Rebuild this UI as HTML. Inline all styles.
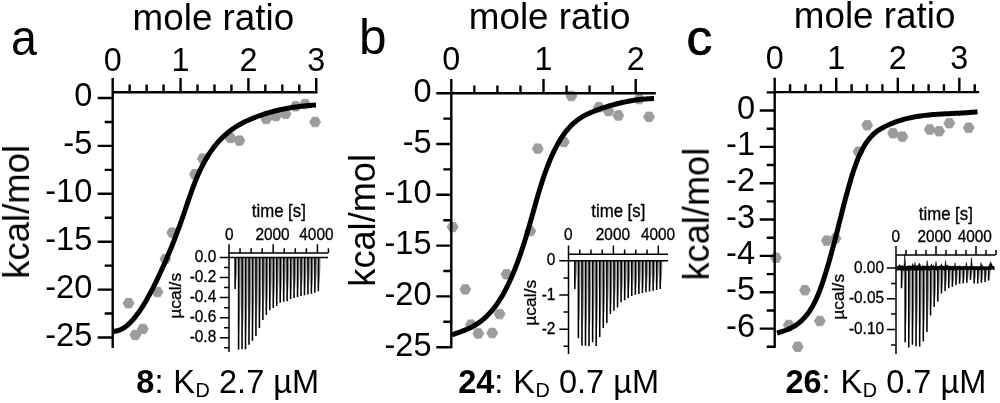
<!DOCTYPE html>
<html lang="en"><head><meta charset="utf-8"><title>ITC binding isotherms</title>
<style>html,body{margin:0;padding:0;background:#fff}body{width:1000px;height:403px;overflow:hidden}svg{display:block}text{font-family:'Liberation Sans', Arial, Helvetica, sans-serif;fill:#000}</style>
</head><body>
<svg width="1000" height="403" viewBox="0 0 1000 403">
<defs><filter id="soft" x="0" y="0" width="1000" height="403" filterUnits="userSpaceOnUse" color-interpolation-filters="sRGB"><feGaussianBlur stdDeviation="0.45"/></filter></defs>
<rect width="1000" height="403" fill="#fff"/>
<g filter="url(#soft)">
<rect width="1000" height="403" fill="#fff"/>
<g id="panel-a">
<text transform="translate(11.1,54.5) scale(0.93,1)" font-size="50" stroke="#000" stroke-width="0">a</text>
<text x="132.6" y="30.2" font-size="36.8" text-anchor="start">mole ratio</text>
<text x="112.7" y="70.7" font-size="32.3" text-anchor="middle">0</text>
<text x="180.55" y="70.7" font-size="32.3" text-anchor="middle">1</text>
<text x="248.4" y="70.7" font-size="32.3" text-anchor="middle">2</text>
<text x="316.25" y="70.7" font-size="32.3" text-anchor="middle">3</text>
<text x="92.3" y="106" font-size="32.6" text-anchor="end">0</text>
<text x="92.3" y="153.9" font-size="32.6" text-anchor="end">-5</text>
<text x="92.3" y="201.8" font-size="32.6" text-anchor="end">-10</text>
<text x="92.3" y="249.7" font-size="32.6" text-anchor="end">-15</text>
<text x="92.3" y="297.6" font-size="32.6" text-anchor="end">-20</text>
<text x="92.3" y="345.5" font-size="32.6" text-anchor="end">-25</text>
<text transform="translate(29,278.8) rotate(-90)" font-size="36.5">kcal/mol</text>
<g fill="#9c9c9c" stroke="#9c9c9c" stroke-width="0.9" stroke-linejoin="round">
<polygon points="133.95,303.2 131.22,307.92 125.78,307.92 123.05,303.2 125.77,298.48 131.22,298.48"/>
<polygon points="148.25,328.9 145.53,333.62 140.08,333.62 137.35,328.9 140.08,324.18 145.53,324.18"/>
<polygon points="140.75,335 138.03,339.72 132.58,339.72 129.85,335 132.58,330.28 138.03,330.28"/>
<polygon points="162.95,292 160.22,296.72 154.78,296.72 152.05,292 154.78,287.28 160.22,287.28"/>
<polygon points="170.85,259 168.12,263.72 162.68,263.72 159.95,259 162.68,254.28 168.12,254.28"/>
<polygon points="177.65,232.6 174.92,237.32 169.47,237.32 166.75,232.6 169.47,227.88 174.92,227.88"/>
<polygon points="200.35,174.2 197.62,178.92 192.18,178.92 189.45,174.2 192.18,169.48 197.62,169.48"/>
<polygon points="208.25,158.6 205.53,163.32 200.08,163.32 197.35,158.6 200.08,153.88 205.53,153.88"/>
<polygon points="235.95,138 233.22,142.72 227.78,142.72 225.05,138 227.78,133.28 233.22,133.28"/>
<polygon points="244.85,140.6 242.12,145.32 236.68,145.32 233.95,140.6 236.68,135.88 242.12,135.88"/>
<polygon points="271.75,119 269.03,123.72 263.57,123.72 260.85,119 263.57,114.28 269.03,114.28"/>
<polygon points="281.35,116 278.62,120.72 273.17,120.72 270.45,116 273.17,111.28 278.62,111.28"/>
<polygon points="291.05,113.8 288.33,118.52 282.88,118.52 280.15,113.8 282.88,109.08 288.33,109.08"/>
<polygon points="301.15,106.3 298.43,111.02 292.97,111.02 290.25,106.3 292.97,101.58 298.43,101.58"/>
<polygon points="310.55,104.1 307.83,108.82 302.38,108.82 299.65,104.1 302.38,99.38 307.83,99.38"/>
<polygon points="320.55,122 317.83,126.72 312.38,126.72 309.65,122 312.38,117.28 317.83,117.28"/>
</g>
<polyline points="113.2,331.3 115.25,331.2 117.3,330.82 119.35,330.18 121.39,329.27 123.44,328.12 125.49,326.72 127.54,325.08 129.59,323.21 131.64,321.12 133.68,318.81 135.73,316.3 137.78,313.59 139.83,310.69 141.88,307.6 143.93,304.34 145.98,300.91 148.02,297.32 150.07,293.57 152.12,289.68 154.17,285.65 156.22,281.48 158.27,277.2 160.32,272.8 162.36,268.29 164.41,263.68 166.46,258.98 168.51,254.17 170.56,249.25 172.61,244.2 174.65,239.01 176.7,233.68 178.75,228.18 180.8,222.52 182.85,216.68 184.9,210.69 186.95,204.66 188.99,198.66 191.04,192.79 193.09,187.12 195.14,181.74 197.19,176.74 199.24,172.09 201.28,167.78 203.33,163.78 205.38,160.07 207.43,156.62 209.48,153.41 211.53,150.42 213.58,147.62 215.62,145.01 217.67,142.57 219.72,140.3 221.77,138.16 223.82,136.17 225.87,134.3 227.92,132.56 229.96,130.93 232.01,129.41 234.06,127.98 236.11,126.65 238.16,125.41 240.21,124.24 242.25,123.14 244.3,122.1 246.35,121.11 248.4,120.17 250.45,119.27 252.5,118.41 254.55,117.58 256.59,116.78 258.64,116.01 260.69,115.28 262.74,114.57 264.79,113.9 266.84,113.26 268.88,112.65 270.93,112.06 272.98,111.5 275.03,110.97 277.08,110.47 279.13,109.99 281.18,109.54 283.22,109.11 285.27,108.7 287.32,108.32 289.37,107.96 291.42,107.62 293.47,107.3 295.52,107 297.56,106.72 299.61,106.47 301.66,106.22 303.71,106 305.76,105.79 307.81,105.6 309.85,105.43 311.9,105.27 313.95,105.12 316,104.99" fill="none" stroke="#000" stroke-width="5.0" stroke-linejoin="round"/>
<path d="M112.7,91.1V348M111.5,92.3H317.5M112.7,92.3V78M129.66,92.3V84.5M146.62,92.3V84.5M163.59,92.3V84.5M180.55,92.3V78M197.51,92.3V84.5M214.47,92.3V84.5M231.44,92.3V84.5M248.4,92.3V78M265.36,92.3V84.5M282.32,92.3V84.5M299.29,92.3V84.5M316.25,92.3V78M112.7,98H97.7M112.7,121.95H104.7M112.7,145.9H97.7M112.7,169.85H104.7M112.7,193.8H97.7M112.7,217.75H104.7M112.7,241.7H97.7M112.7,265.65H104.7M112.7,289.6H97.7M112.7,313.55H104.7M112.7,337.5H97.7" fill="none" stroke="#000" stroke-width="2.4"/>
</g>
<g id="inset-a">
<text transform="translate(278.8,216.8) scale(1,1.07)" font-size="16.8" text-anchor="middle" stroke="#000" stroke-width="0.3">time [s]</text>
<text transform="translate(229.3,239.8) scale(1,1.07)" font-size="15.4" text-anchor="middle" stroke="#000" stroke-width="0.3">0</text>
<text transform="translate(272.5,239.8) scale(1,1.07)" font-size="15.4" text-anchor="middle" stroke="#000" stroke-width="0.3">2000</text>
<text transform="translate(316.4,239.8) scale(1,1.07)" font-size="15.4" text-anchor="middle" stroke="#000" stroke-width="0.3">4000</text>
<text transform="translate(216.2,262.1) scale(1,1.07)" font-size="15.4" text-anchor="end" stroke="#000" stroke-width="0.3">0.0</text>
<text transform="translate(216.2,282.16) scale(1,1.07)" font-size="15.4" text-anchor="end" stroke="#000" stroke-width="0.3">-0.2</text>
<text transform="translate(216.2,302.22) scale(1,1.07)" font-size="15.4" text-anchor="end" stroke="#000" stroke-width="0.3">-0.4</text>
<text transform="translate(216.2,322.28) scale(1,1.07)" font-size="15.4" text-anchor="end" stroke="#000" stroke-width="0.3">-0.6</text>
<text transform="translate(216.2,342.34) scale(1,1.07)" font-size="15.4" text-anchor="end" stroke="#000" stroke-width="0.3">-0.8</text>
<text transform="translate(180.8,318.8) rotate(-90) scale(1.07,1)" font-size="16.3" stroke="#000" stroke-width="0.3">µcal/s</text>
<path d="M235.8,257.5V284.11L236.4,279.41L236.9,273.15L237.2,265.32L237.35,257.5ZM239.27,257.5V335.44L239.87,321.69L240.37,303.35L240.67,280.43L240.82,257.5ZM242.73,257.5V335.27L243.33,321.55L243.83,303.25L244.13,280.38L244.28,257.5ZM246.2,257.5V335.19L246.8,321.48L247.3,303.2L247.6,280.35L247.75,257.5ZM249.67,257.5V331.37L250.27,318.33L250.77,300.95L251.07,279.23L251.22,257.5ZM253.13,257.5V327.96L253.73,315.53L254.23,298.95L254.53,278.23L254.69,257.5ZM256.6,257.5V323.88L257.2,312.17L257.7,296.55L258,277.02L258.15,257.5ZM260.07,257.5V317.09L260.67,306.57L261.17,292.55L261.47,275.02L261.62,257.5ZM263.54,257.5V310.29L264.14,300.97L264.64,288.55L264.94,273.02L265.09,257.5ZM267,257.5V306.2L267.6,297.61L268.1,286.15L268.4,271.82L268.55,257.5ZM270.47,257.5V302.12L271.07,294.25L271.57,283.75L271.87,270.62L272.02,257.5ZM273.94,257.5V300.09L274.54,292.57L275.04,282.55L275.34,270.02L275.49,257.5ZM277.4,257.5V298.47L278,291.24L278.5,281.6L278.8,269.55L278.95,257.5ZM280.87,257.5V295.75L281.47,289L281.97,280L282.27,268.75L282.42,257.5ZM284.34,257.5V294.9L284.94,288.3L285.44,279.5L285.74,268.5L285.89,257.5ZM287.81,257.5V294.39L288.4,287.88L288.9,279.2L289.2,268.35L289.35,257.5ZM291.27,257.5V292.61L291.87,286.41L292.37,278.15L292.67,267.82L292.82,257.5ZM294.74,257.5V291.59L295.34,285.57L295.84,277.55L296.14,267.52L296.29,257.5ZM298.21,257.5V290.74L298.81,284.87L299.31,277.05L299.61,267.27L299.76,257.5ZM301.67,257.5V290.06L302.27,284.31L302.77,276.65L303.07,267.07L303.22,257.5ZM305.14,257.5V289.38L305.74,283.75L306.24,276.25L306.54,266.88L306.69,257.5ZM308.61,257.5V288.69L309.21,283.19L309.71,275.85L310.01,266.68L310.16,257.5ZM312.07,257.5V288.01L312.67,282.63L313.17,275.45L313.47,266.48L313.62,257.5ZM315.54,257.5V287.16L316.14,281.93L316.64,274.95L316.94,266.23L317.09,257.5ZM319.01,257.5V285.98L319.61,280.95L320.11,274.25L320.41,265.88L320.56,257.5Z" fill="#8c8c8c"/>
<path d="M234.35,257.5V289.1H235.9L236.05,257.5ZM237.82,257.5V349.5H239.37L239.52,257.5ZM241.28,257.5V349.3H242.83L242.98,257.5ZM244.75,257.5V349.2H246.3L246.45,257.5ZM248.22,257.5V344.7H249.77L249.92,257.5ZM251.69,257.5V340.7H253.23L253.38,257.5ZM255.15,257.5V335.9H256.7L256.85,257.5ZM258.62,257.5V327.9H260.17L260.32,257.5ZM262.09,257.5V319.9H263.64L263.79,257.5ZM265.55,257.5V315.1H267.1L267.25,257.5ZM269.02,257.5V310.3H270.57L270.72,257.5ZM272.49,257.5V307.9H274.04L274.19,257.5ZM275.95,257.5V306H277.5L277.65,257.5ZM279.42,257.5V302.8H280.97L281.12,257.5ZM282.89,257.5V301.8H284.44L284.59,257.5ZM286.35,257.5V301.2H287.9L288.06,257.5ZM289.82,257.5V299.1H291.37L291.52,257.5ZM293.29,257.5V297.9H294.84L294.99,257.5ZM296.76,257.5V296.9H298.31L298.46,257.5ZM300.22,257.5V296.1H301.77L301.92,257.5ZM303.69,257.5V295.3H305.24L305.39,257.5ZM307.16,257.5V294.5H308.71L308.86,257.5ZM310.62,257.5V293.7H312.17L312.32,257.5ZM314.09,257.5V292.7H315.64L315.79,257.5ZM317.56,257.5V291.3H319.11L319.26,257.5Z" fill="#000"/>
<path d="M229,257.5H328" stroke="#000" stroke-width="1.6" fill="none"/>
<path d="M229,252.25V352M228.25,253H328.2M229,253V244.2M240.05,253V248.2M251.1,253V248.2M262.15,253V248.2M273.2,253V244.2M284.25,253V248.2M295.3,253V248.2M306.35,253V248.2M317.4,253V244.2M328.45,253V248.2M229,257.5H219.8M229,267.53H224M229,277.56H219.8M229,287.59H224M229,297.62H219.8M229,307.65H224M229,317.68H219.8M229,327.71H224M229,337.74H219.8M229,347.77H224" fill="none" stroke="#000" stroke-width="1.5"/>
</g>
<text id="caption-a" y="392.9" font-size="32.5"><tspan x="136.3" font-weight="bold">8</tspan><tspan>: </tspan><tspan x="173.24">K</tspan><tspan x="195.52" dy="4" font-size="19.8">D </tspan><tspan x="219.05" dy="-4">2.7 µM</tspan></text>
<g id="panel-b">
<text transform="translate(358.9,53.6) scale(1.0,1)" font-size="49.5" stroke="#000" stroke-width="0">b</text>
<text x="468.8" y="28.8" font-size="36.8" text-anchor="start">mole ratio</text>
<text x="451.3" y="69.8" font-size="32.3" text-anchor="middle">0</text>
<text x="543.5" y="69.8" font-size="32.3" text-anchor="middle">1</text>
<text x="635.7" y="69.8" font-size="32.3" text-anchor="middle">2</text>
<text x="431.6" y="101.7" font-size="32.6" text-anchor="end">0</text>
<text x="431.6" y="152.5" font-size="32.6" text-anchor="end">-5</text>
<text x="431.6" y="203.3" font-size="32.6" text-anchor="end">-10</text>
<text x="431.6" y="254.1" font-size="32.6" text-anchor="end">-15</text>
<text x="431.6" y="304.9" font-size="32.6" text-anchor="end">-20</text>
<text x="431.6" y="355.7" font-size="32.6" text-anchor="end">-25</text>
<text transform="translate(375,286.7) rotate(-90)" font-size="36.2">kcal/mol</text>
<g fill="#9c9c9c" stroke="#9c9c9c" stroke-width="0.9" stroke-linejoin="round">
<polygon points="458.05,227 455.33,231.72 449.88,231.72 447.15,227 449.88,222.28 455.33,222.28"/>
<polygon points="470.75,289.4 468.03,294.12 462.57,294.12 459.85,289.4 462.57,284.68 468.03,284.68"/>
<polygon points="476.45,324.6 473.73,329.32 468.27,329.32 465.55,324.6 468.27,319.88 473.73,319.88"/>
<polygon points="483.75,333.5 481.03,338.22 475.57,338.22 472.85,333.5 475.57,328.78 481.03,328.78"/>
<polygon points="497.65,333 494.93,337.72 489.47,337.72 486.75,333 489.47,328.28 494.93,328.28"/>
<polygon points="505.05,314.1 502.33,318.82 496.88,318.82 494.15,314.1 496.88,309.38 502.33,309.38"/>
<polygon points="511.95,274.3 509.23,279.02 503.77,279.02 501.05,274.3 503.77,269.58 509.23,269.58"/>
<polygon points="535.75,231.1 533.02,235.82 527.57,235.82 524.85,231.1 527.57,226.38 533.02,226.38"/>
<polygon points="576.85,96 574.12,100.72 568.67,100.72 565.95,96 568.67,91.28 574.12,91.28"/>
<polygon points="543.25,148.6 540.52,153.32 535.07,153.32 532.35,148.6 535.07,143.88 540.52,143.88"/>
<polygon points="569.35,142 566.62,146.72 561.17,146.72 558.45,142 561.17,137.28 566.62,137.28"/>
<polygon points="604.35,107.2 601.62,111.92 596.17,111.92 593.45,107.2 596.17,102.48 601.62,102.48"/>
<polygon points="613.95,111 611.23,115.72 605.77,115.72 603.05,111 605.77,106.28 611.23,106.28"/>
<polygon points="623.75,115.5 621.02,120.22 615.57,120.22 612.85,115.5 615.57,110.78 621.02,110.78"/>
<polygon points="644.65,99 641.93,103.72 636.48,103.72 633.75,99 636.48,94.28 641.93,94.28"/>
<polygon points="654.45,116.8 651.73,121.52 646.27,121.52 643.55,116.8 646.27,112.08 651.73,112.08"/>
</g>
<polyline points="452,334.87 454.04,334.15 456.08,333.43 458.12,332.71 460.16,331.98 462.2,331.21 464.24,330.41 466.28,329.56 468.32,328.66 470.36,327.68 472.4,326.63 474.44,325.49 476.48,324.25 478.53,322.9 480.57,321.43 482.61,319.83 484.65,318.1 486.69,316.21 488.73,314.16 490.77,311.93 492.81,309.53 494.85,306.93 496.89,304.13 498.93,301.12 500.97,297.89 503.01,294.42 505.05,290.71 507.09,286.75 509.13,282.52 511.17,278.04 513.21,273.28 515.25,268.24 517.29,262.93 519.33,257.32 521.37,251.43 523.41,245.23 525.45,238.73 527.49,231.92 529.54,224.89 531.58,217.71 533.62,210.47 535.66,203.27 537.7,196.18 539.74,189.31 541.78,182.73 543.82,176.53 545.86,170.73 547.9,165.3 549.94,160.24 551.98,155.53 554.02,151.15 556.06,147.1 558.1,143.34 560.14,139.88 562.18,136.69 564.22,133.76 566.26,131.08 568.3,128.62 570.34,126.39 572.38,124.35 574.42,122.5 576.46,120.82 578.51,119.29 580.55,117.91 582.59,116.65 584.63,115.51 586.67,114.46 588.71,113.49 590.75,112.59 592.79,111.74 594.83,110.93 596.87,110.15 598.91,109.39 600.95,108.66 602.99,107.95 605.03,107.27 607.07,106.61 609.11,105.98 611.15,105.38 613.19,104.8 615.23,104.24 617.27,103.71 619.31,103.21 621.35,102.73 623.39,102.28 625.43,101.85 627.47,101.44 629.52,101.07 631.56,100.71 633.6,100.38 635.64,100.08 637.68,99.8 639.72,99.55 641.76,99.32 643.8,99.12 645.84,98.94 647.88,98.79 649.92,98.66 651.96,98.55 654,98.48" fill="none" stroke="#000" stroke-width="5.0" stroke-linejoin="round"/>
<path d="M451.3,92V348.3M450.1,93.2H655.8M451.3,93.2V78.9M474.35,93.2V85.4M497.4,93.2V85.4M520.45,93.2V85.4M543.5,93.2V78.9M566.55,93.2V85.4M589.6,93.2V85.4M612.65,93.2V85.4M635.7,93.2V78.9M451.3,93.2H436.3M451.3,118.6H443.3M451.3,144H436.3M451.3,169.4H443.3M451.3,194.8H436.3M451.3,220.2H443.3M451.3,245.6H436.3M451.3,271H443.3M451.3,296.4H436.3M451.3,321.8H443.3M451.3,347.2H436.3" fill="none" stroke="#000" stroke-width="2.4"/>
</g>
<g id="inset-b">
<text transform="translate(618.3,217) scale(1,1.07)" font-size="16.8" text-anchor="middle" stroke="#000" stroke-width="0.3">time [s]</text>
<text transform="translate(568.3,240) scale(1,1.07)" font-size="15.4" text-anchor="middle" stroke="#000" stroke-width="0.3">0</text>
<text transform="translate(612.9,240) scale(1,1.07)" font-size="15.4" text-anchor="middle" stroke="#000" stroke-width="0.3">2000</text>
<text transform="translate(658,240) scale(1,1.07)" font-size="15.4" text-anchor="middle" stroke="#000" stroke-width="0.3">4000</text>
<text transform="translate(555.4,265.4) scale(1,1.07)" font-size="15.4" text-anchor="end" stroke="#000" stroke-width="0.3">0</text>
<text transform="translate(555.4,299.6) scale(1,1.07)" font-size="15.4" text-anchor="end" stroke="#000" stroke-width="0.3">-1</text>
<text transform="translate(555.4,333.8) scale(1,1.07)" font-size="15.4" text-anchor="end" stroke="#000" stroke-width="0.3">-2</text>
<text transform="translate(536.2,325.7) rotate(-90) scale(1.07,1)" font-size="16.3" stroke="#000" stroke-width="0.3">µcal/s</text>
<path d="M575.5,260.8V284.6L576.1,280.4L576.6,274.8L576.9,267.8L577.05,260.8ZM579.06,260.8V326.42L579.66,314.84L580.16,299.4L580.46,280.1L580.61,260.8ZM582.62,260.8V332.8L583.22,320.09L583.72,303.15L584.02,281.98L584.17,260.8ZM586.17,260.8V332.8L586.77,320.09L587.27,303.15L587.57,281.98L587.72,260.8ZM589.73,260.8V333.22L590.33,320.44L590.83,303.4L591.13,282.1L591.28,260.8ZM593.29,260.8V329.82L593.89,317.64L594.39,301.4L594.69,281.1L594.84,260.8ZM596.85,260.8V332.96L597.45,320.23L597.95,303.25L598.25,282.02L598.4,260.8ZM600.41,260.8V325.31L601.01,313.93L601.51,298.75L601.81,279.77L601.96,260.8ZM603.96,260.8V317.58L604.56,307.56L605.06,294.2L605.36,277.5L605.51,260.8ZM607.52,260.8V313.5L608.12,304.2L608.62,291.8L608.92,276.3L609.07,260.8ZM611.08,260.8V305.76L611.68,297.83L612.18,287.25L612.48,274.02L612.63,260.8ZM614.64,260.8V303.05L615.24,295.59L615.74,285.65L616.04,273.23L616.19,260.8ZM618.2,260.8V300.32L618.8,293.35L619.3,284.05L619.6,272.43L619.75,260.8ZM621.75,260.8V295.82L622.35,289.64L622.85,281.4L623.15,271.1L623.3,260.8ZM625.31,260.8V294.12L625.91,288.24L626.41,280.4L626.71,270.6L626.86,260.8ZM628.87,260.8V292.16L629.47,286.63L629.97,279.25L630.27,270.02L630.42,260.8ZM632.43,260.8V290.38L633.03,285.16L633.53,278.2L633.83,269.5L633.98,260.8ZM635.99,260.8V289.36L636.59,284.32L637.09,277.6L637.39,269.2L637.54,260.8ZM639.54,260.8V288.68L640.14,283.76L640.64,277.2L640.94,269L641.09,260.8ZM643.1,260.8V288L643.7,283.2L644.2,276.8L644.5,268.8L644.65,260.8ZM646.66,260.8V287.32L647.26,282.64L647.76,276.4L648.06,268.6L648.21,260.8ZM650.22,260.8V286.64L650.82,282.08L651.32,276L651.62,268.4L651.77,260.8ZM653.78,260.8V285.96L654.38,281.52L654.88,275.6L655.18,268.2L655.33,260.8ZM657.33,260.8V285.28L657.93,280.96L658.43,275.2L658.73,268L658.88,260.8ZM660.89,260.8V284.6L661.49,280.4L661.99,274.8L662.29,267.8L662.44,260.8Z" fill="#8c8c8c"/>
<path d="M574.05,260.8V289.1H575.6L575.75,260.8ZM577.61,260.8V338.3H579.16L579.31,260.8ZM581.17,260.8V345.8H582.72L582.87,260.8ZM584.72,260.8V345.8H586.27L586.42,260.8ZM588.28,260.8V346.3H589.83L589.98,260.8ZM591.84,260.8V342.3H593.39L593.54,260.8ZM595.4,260.8V346H596.95L597.1,260.8ZM598.96,260.8V337H600.51L600.66,260.8ZM602.51,260.8V327.9H604.06L604.21,260.8ZM606.07,260.8V323.1H607.62L607.77,260.8ZM609.63,260.8V314H611.18L611.33,260.8ZM613.19,260.8V310.8H614.74L614.89,260.8ZM616.75,260.8V307.6H618.3L618.45,260.8ZM620.3,260.8V302.3H621.85L622,260.8ZM623.86,260.8V300.3H625.41L625.56,260.8ZM627.42,260.8V298H628.97L629.12,260.8ZM630.98,260.8V295.9H632.53L632.68,260.8ZM634.54,260.8V294.7H636.09L636.24,260.8ZM638.09,260.8V293.9H639.64L639.79,260.8ZM641.65,260.8V293.1H643.2L643.35,260.8ZM645.21,260.8V292.3H646.76L646.91,260.8ZM648.77,260.8V291.5H650.32L650.47,260.8ZM652.33,260.8V290.7H653.88L654.03,260.8ZM655.88,260.8V289.9H657.43L657.58,260.8ZM659.44,260.8V289.1H660.99L661.14,260.8Z" fill="#000"/>
<path d="M568.5,260.8H668" stroke="#000" stroke-width="1.6" fill="none"/>
<path d="M568.5,253.45V354M567.75,254.2H668M568.5,254.2V245.4M579.73,254.2V249.4M590.95,254.2V249.4M602.17,254.2V249.4M613.4,254.2V245.4M624.62,254.2V249.4M635.85,254.2V249.4M647.08,254.2V249.4M658.3,254.2V245.4M568.5,260.8H559.3M568.5,277.9H563.5M568.5,295H559.3M568.5,312.1H563.5M568.5,329.2H559.3M568.5,346.3H563.5" fill="none" stroke="#000" stroke-width="1.5"/>
</g>
<text id="caption-b" y="392.9" font-size="32.5"><tspan x="458.2" font-weight="bold">24</tspan><tspan>: </tspan><tspan x="513.21">K</tspan><tspan x="535.49" dy="4" font-size="19.8">D </tspan><tspan x="559.02" dy="-4">0.7 µM</tspan></text>
<g id="panel-c">
<text transform="translate(686.6,54.5) scale(1.03,1)" font-size="50" stroke="#000" stroke-width="0.7">c</text>
<text x="793.8" y="27.9" font-size="36.8" text-anchor="start">mole ratio</text>
<text x="774.7" y="69" font-size="32.3" text-anchor="middle">0</text>
<text x="836.25" y="69" font-size="32.3" text-anchor="middle">1</text>
<text x="897.8" y="69" font-size="32.3" text-anchor="middle">2</text>
<text x="959.35" y="69" font-size="32.3" text-anchor="middle">3</text>
<text x="755" y="118.5" font-size="32.6" text-anchor="end">0</text>
<text x="755" y="154.85" font-size="32.6" text-anchor="end">-1</text>
<text x="755" y="191.2" font-size="32.6" text-anchor="end">-2</text>
<text x="755" y="227.55" font-size="32.6" text-anchor="end">-3</text>
<text x="755" y="263.9" font-size="32.6" text-anchor="end">-4</text>
<text x="755" y="300.25" font-size="32.6" text-anchor="end">-5</text>
<text x="755" y="336.6" font-size="32.6" text-anchor="end">-6</text>
<text transform="translate(708.8,280.5) rotate(-90)" font-size="36.2">kcal/mol</text>
<g fill="#9c9c9c" stroke="#9c9c9c" stroke-width="0.9" stroke-linejoin="round">
<polygon points="781.35,257.8 778.62,262.52 773.17,262.52 770.45,257.8 773.17,253.08 778.62,253.08"/>
<polygon points="810.45,290.2 807.73,294.92 802.27,294.92 799.55,290.2 802.27,285.48 807.73,285.48"/>
<polygon points="794.25,325 791.52,329.72 786.07,329.72 783.35,325 786.07,320.28 791.52,320.28"/>
<polygon points="803.25,346.8 800.52,351.52 795.07,351.52 792.35,346.8 795.07,342.08 800.52,342.08"/>
<polygon points="825.25,321 822.52,325.72 817.07,325.72 814.35,321 817.07,316.28 822.52,316.28"/>
<polygon points="832.25,240.6 829.52,245.32 824.07,245.32 821.35,240.6 824.07,235.88 829.52,235.88"/>
<polygon points="840.95,238.5 838.23,243.22 832.77,243.22 830.05,238.5 832.77,233.78 838.23,233.78"/>
<polygon points="872.65,125.3 869.93,130.02 864.48,130.02 861.75,125.3 864.48,120.58 869.93,120.58"/>
<polygon points="863.95,151.7 861.23,156.42 855.77,156.42 853.05,151.7 855.77,146.98 861.23,146.98"/>
<polygon points="898.55,133.2 895.83,137.92 890.38,137.92 887.65,133.2 890.38,128.48 895.83,128.48"/>
<polygon points="907.85,136.6 905.12,141.32 899.67,141.32 896.95,136.6 899.67,131.88 905.12,131.88"/>
<polygon points="935.15,129.5 932.43,134.22 926.98,134.22 924.25,129.5 926.98,124.78 932.43,124.78"/>
<polygon points="944.65,131.2 941.93,135.92 936.48,135.92 933.75,131.2 936.48,126.48 941.93,126.48"/>
<polygon points="954.75,123.2 952.02,127.92 946.57,127.92 943.85,123.2 946.57,118.48 952.02,118.48"/>
<polygon points="974.15,127.7 971.43,132.42 965.98,132.42 963.25,127.7 965.98,122.98 971.43,122.98"/>
</g>
<polyline points="777,333.13 779.03,332.51 781.05,331.88 783.08,331.22 785.1,330.51 787.13,329.73 789.15,328.87 791.18,327.91 793.2,326.82 795.23,325.59 797.25,324.2 799.28,322.63 801.3,320.85 803.33,318.87 805.35,316.64 807.38,314.15 809.4,311.35 811.43,308.19 813.45,304.63 815.48,300.63 817.51,296.15 819.53,291.13 821.56,285.63 823.58,279.67 825.61,273.3 827.63,266.56 829.66,259.5 831.68,252.15 833.71,244.57 835.73,236.79 837.76,228.87 839.78,220.88 841.81,212.89 843.83,204.98 845.86,197.24 847.88,189.75 849.91,182.57 851.93,175.8 853.96,169.51 855.98,163.78 858.01,158.61 860.04,153.98 862.06,149.85 864.09,146.18 866.11,142.94 868.14,140.08 870.16,137.58 872.19,135.39 874.21,133.48 876.24,131.82 878.26,130.36 880.29,129.07 882.31,127.92 884.34,126.86 886.36,125.87 888.39,124.93 890.41,124.04 892.44,123.21 894.46,122.42 896.49,121.68 898.52,120.99 900.54,120.34 902.57,119.74 904.59,119.17 906.62,118.65 908.64,118.16 910.67,117.71 912.69,117.29 914.72,116.9 916.74,116.54 918.77,116.22 920.79,115.92 922.82,115.64 924.84,115.39 926.87,115.17 928.89,114.96 930.92,114.77 932.94,114.6 934.97,114.44 936.99,114.3 939.02,114.17 941.05,114.05 943.07,113.94 945.1,113.84 947.12,113.74 949.15,113.64 951.17,113.55 953.2,113.46 955.22,113.36 957.25,113.26 959.27,113.16 961.3,113.05 963.32,112.93 965.35,112.81 967.37,112.67 969.4,112.51 971.42,112.35 973.45,112.16 975.47,111.96 977.5,111.74" fill="none" stroke="#000" stroke-width="5.0" stroke-linejoin="round"/>
<path d="M774.7,90.9V347.8M773.5,92.1H979.2M774.7,92.1V77.8M790.09,92.1V84.3M805.48,92.1V84.3M820.86,92.1V84.3M836.25,92.1V77.8M851.64,92.1V84.3M867.03,92.1V84.3M882.41,92.1V84.3M897.8,92.1V77.8M913.19,92.1V84.3M928.58,92.1V84.3M943.96,92.1V84.3M959.35,92.1V77.8M974.74,92.1V84.3M774.7,92.33H766.7M774.7,110.5H759.7M774.7,128.68H766.7M774.7,146.85H759.7M774.7,165.03H766.7M774.7,183.2H759.7M774.7,201.38H766.7M774.7,219.55H759.7M774.7,237.73H766.7M774.7,255.9H759.7M774.7,274.08H766.7M774.7,292.25H759.7M774.7,310.43H766.7M774.7,328.6H759.7M774.7,346.77H766.7" fill="none" stroke="#000" stroke-width="2.4"/>
</g>
<g id="inset-c">
<text transform="translate(945.8,219.5) scale(1,1.07)" font-size="16.8" text-anchor="middle" stroke="#000" stroke-width="0.3">time [s]</text>
<text transform="translate(895.8,241.8) scale(1,1.07)" font-size="15.4" text-anchor="middle" stroke="#000" stroke-width="0.3">0</text>
<text transform="translate(934.5,241.8) scale(1,1.07)" font-size="15.4" text-anchor="middle" stroke="#000" stroke-width="0.3">2000</text>
<text transform="translate(974.8,241.8) scale(1,1.07)" font-size="15.4" text-anchor="middle" stroke="#000" stroke-width="0.3">4000</text>
<text transform="translate(884,272.6) scale(1,1.07)" font-size="15.4" text-anchor="end" stroke="#000" stroke-width="0.3">0.00</text>
<text transform="translate(884,303.35) scale(1,1.07)" font-size="15.4" text-anchor="end" stroke="#000" stroke-width="0.3">-0.05</text>
<text transform="translate(884,334.1) scale(1,1.07)" font-size="15.4" text-anchor="end" stroke="#000" stroke-width="0.3">-0.10</text>
<text transform="translate(843.8,319.8) rotate(-90) scale(1.07,1)" font-size="16.3" stroke="#000" stroke-width="0.3">µcal/s</text>
<path d="M902.2,268V285L902.8,282L903.3,278L903.6,273L903.75,268ZM905.83,268V330.9L906.43,319.8L906.93,305L907.23,286.5L907.38,268ZM909.46,268V335.24L910.06,323.37L910.56,307.55L910.86,287.77L911.01,268ZM913.09,268V332.94L913.69,321.48L914.19,306.2L914.49,287.1L914.64,268ZM916.72,268V334.3L917.32,322.6L917.82,307L918.12,287.5L918.27,268ZM920.35,268V334.56L920.95,322.81L921.45,307.15L921.75,287.57L921.9,268ZM923.98,268V330.22L924.58,319.24L925.08,304.6L925.38,286.3L925.53,268ZM927.61,268V322.06L928.21,312.52L928.71,299.8L929.01,283.9L929.16,268ZM931.24,268V308.2L931.84,301.11L932.34,291.65L932.64,279.82L932.79,268ZM934.87,268V300.98L935.47,295.16L935.97,287.4L936.27,277.7L936.42,268ZM938.5,268V296.22L939.1,291.24L939.6,284.6L939.9,276.3L940.05,268ZM942.13,268V289.42L942.73,285.64L943.23,280.6L943.53,274.3L943.68,268ZM945.76,268V287.38L946.36,283.96L946.86,279.4L947.16,273.7L947.31,268ZM949.39,268V285L949.99,282L950.49,278L950.79,273L950.94,268ZM953.02,268V283.64L953.62,280.88L954.12,277.2L954.42,272.6L954.57,268ZM956.65,268V282.28L957.25,279.76L957.75,276.4L958.05,272.2L958.2,268ZM960.28,268V281.18L960.88,278.85L961.38,275.75L961.68,271.88L961.83,268ZM963.91,268V280.66L964.51,278.43L965.01,275.45L965.31,271.73L965.46,268ZM967.54,268V280.24L968.14,278.08L968.64,275.2L968.94,271.6L969.09,268ZM971.17,268V277.77L971.77,276.05L972.27,273.75L972.57,270.88L972.72,268ZM974.8,268V280.92L975.4,278.64L975.9,275.6L976.2,271.8L976.35,268ZM978.43,268V280.92L979.03,278.64L979.53,275.6L979.83,271.8L979.98,268ZM982.06,268V280.24L982.66,278.08L983.16,275.2L983.46,271.6L983.61,268ZM985.69,268V279.56L986.29,277.52L986.79,274.8L987.09,271.4L987.24,268ZM989.32,268V278.45L989.92,276.61L990.42,274.15L990.72,271.07L990.87,268Z" fill="#8c8c8c"/>
<path d="M900.75,268V288.3H902.3L902.45,268ZM904.38,268V342.3H905.93L906.08,268ZM908.01,268V347.4H909.56L909.71,268ZM911.64,268V344.7H913.19L913.34,268ZM915.27,268V346.3H916.82L916.97,268ZM918.9,268V346.6H920.45L920.6,268ZM922.53,268V341.5H924.08L924.23,268ZM926.16,268V331.9H927.71L927.86,268ZM929.79,268V315.6H931.34L931.49,268ZM933.42,268V307.1H934.97L935.12,268ZM937.05,268V301.5H938.6L938.75,268ZM940.68,268V293.5H942.23L942.38,268ZM944.31,268V291.1H945.86L946.01,268ZM947.94,268V288.3H949.49L949.64,268ZM951.57,268V286.7H953.12L953.27,268ZM955.2,268V285.1H956.75L956.9,268ZM958.83,268V283.8H960.38L960.53,268ZM962.46,268V283.2H964.01L964.16,268ZM966.09,268V282.7H967.64L967.79,268ZM969.72,268V279.8H971.27L971.42,268ZM973.35,268V283.5H974.9L975.05,268ZM976.98,268V283.5H978.53L978.68,268ZM980.61,268V282.7H982.16L982.31,268ZM984.24,268V281.9H985.79L985.94,268ZM987.87,268V280.6H989.42L989.57,268Z" fill="#000"/>
<path d="M896.5,265.78L897.4,266.11L898.3,266.13L899.2,263.97L900.1,265.16L901,265.42L901.9,265.72L902.8,265.14L903.7,266.09L904.6,266.02L905.5,265.78L906.4,266.18L907.3,265.72L908.2,265.7L909.1,265.4L910,265.62L910.9,265.92L911.8,265.77L912.7,262.85L913.6,265.59L914.5,265.44L915.4,265.75L916.3,265.73L917.2,265.46L918.1,265.32L919,263.09L919.9,263.15L920.8,266.04L921.7,266.24L922.6,265.29L923.5,266.02L924.4,265.3L925.3,266.15L926.2,265.79L927.1,266.36L928,265.71L928.9,265.77L929.8,266.32L930.7,265.37L931.6,263.16L932.5,266.32L933.4,264.51L934.3,266.29L935.2,265.41L936.1,266.13L937,266.28L937.9,265.9L938.8,266.32L939.7,265.5L940.6,265.37L941.5,263.28L942.4,265.49L943.3,266.05L944.2,265.87L945.1,266.22L946,265.53L946.9,265.66L947.8,264.54L948.7,266.2L949.6,266.01L950.5,265.46L951.4,266.26L952.3,265.83L953.2,266L954.1,266.43L955,265.69L955.9,266.34L956.8,265.68L957.7,266.11L958.6,266.36L959.5,265.6L960.4,265.69L961.3,266.19L962.2,266.55L963.1,266.02L964,265.67L964.9,266.32L965.8,265.98L966.7,266.45L967.6,266.13L968.5,266.17L969.4,266.06L970.3,266.16L971.2,265.81L972.1,265.89L973,266.1L973.9,266.52L974.8,266.36L975.7,266.08L976.6,266.21L977.5,266.14L978.4,266.13L979.3,265.98L980.2,266.41L981.1,265.86L982,264.26L982.9,266.04L983.8,266.53L984.7,266.55L985.6,266.48L986.5,266.24L987.4,266.55L988.3,266.39L989.2,263.43L990.1,266.7L991,262.78L991.9,263.8L992.8,266.02L993.7,266.35L994.6,266.5L994.6,270.18L993.7,270.11L992.8,269.58L991.9,269.52L991,270.11L990.1,269.99L989.2,269.85L988.3,269.76L987.4,269.93L986.5,270.19L985.6,269.85L984.7,270.31L983.8,270.07L982.9,270.27L982,269.61L981.1,269.66L980.2,270.33L979.3,270.34L978.4,270.35L977.5,269.95L976.6,270.01L975.7,270.35L974.8,270.02L973.9,269.81L973,270.27L972.1,269.89L971.2,270.02L970.3,269.63L969.4,269.65L968.5,270.07L967.6,270.42L966.7,269.95L965.8,270.02L964.9,269.87L964,269.85L963.1,270.05L962.2,270.25L961.3,269.8L960.4,270.27L959.5,269.83L958.6,269.84L957.7,270.36L956.8,270.07L955.9,270.02L955,270.16L954.1,270.55L953.2,270.46L952.3,270.51L951.4,269.93L950.5,269.96L949.6,270.67L948.7,270.65L947.8,270.03L946.9,270.26L946,270.55L945.1,270.71L944.2,270.1L943.3,270.53L942.4,270.05L941.5,270.74L940.6,269.96L939.7,269.84L938.8,270.08L937.9,269.92L937,270.8L936.1,270.2L935.2,270L934.3,269.88L933.4,270.01L932.5,270.03L931.6,269.94L930.7,270.27L929.8,270.66L928.9,270.56L928,270.58L927.1,270.27L926.2,270.17L925.3,270.15L924.4,270.07L923.5,270.29L922.6,270.81L921.7,270.5L920.8,270.83L919.9,270.08L919,270.13L918.1,270.36L917.2,270.99L916.3,270.04L915.4,270.96L914.5,270.59L913.6,270.32L912.7,270.8L911.8,270.16L910.9,270.13L910,270.78L909.1,270.63L908.2,270.87L907.3,270.65L906.4,270.76L905.5,270.11L904.6,270.73L903.7,270.93L902.8,270.22L901.9,270.12L901,270.7L900.1,270.32L899.2,270.55L898.3,270.13L897.4,270.5L896.5,270.82Z" fill="#000"/>
<path d="M903.9,268L904.8,254.6L905.7,268ZM970.6,268L971.5,257.6L972.4,268ZM926.3,268L927.2,260.5L928.1,268ZM935.1,268L936,261.5L936.9,268ZM944.7,268L945.6,260.5L946.5,268ZM965.5,268L966.4,262.4L967.3,268ZM989.5,268L990.4,261.5L991.3,268ZM914.1,268L915,262.5L915.9,268ZM954.1,268L955,262.8L955.9,268ZM980.1,268L981,262.5L981.9,268Z" fill="#000" stroke="#000" stroke-width="0.5"/>
<path d="M896,254.15V354M895.25,254.9H995.4M896,254.9V246.1M906,254.9V250.1M916,254.9V250.1M926,254.9V250.1M936,254.9V246.1M946,254.9V250.1M956,254.9V250.1M966,254.9V250.1M976,254.9V246.1M986,254.9V250.1M996,254.9V250.1M896,268H886.8M896,283.38H891M896,298.75H886.8M896,314.12H891M896,329.5H886.8M896,344.88H891" fill="none" stroke="#000" stroke-width="1.5"/>
</g>
<text id="caption-c" y="392.9" font-size="32.5"><tspan x="785.4" font-weight="bold">26</tspan><tspan>: </tspan><tspan x="840.41">K</tspan><tspan x="862.69" dy="4" font-size="19.8">D </tspan><tspan x="886.22" dy="-4">0.7 µM</tspan></text>
</g>
</svg></body></html>
